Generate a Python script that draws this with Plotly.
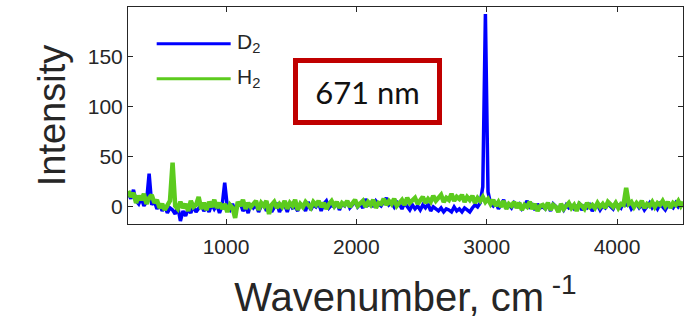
import plotly.graph_objects as go

# Wavenumber sampling grid (cm^-1), 250 ... 4510 in steps of 20
wavenumber = list(range(250, 4511, 20))

# D2 spectrum (blue) (rows of 10 points = 200 cm^-1)
d2 = [
    14, 8, 17, 6, 3, 9, 1, 5, 33, 2,          # 250
    6, -2, 3, -4, 1, -6, -1, -3, -7, 0,       # 450
    -14, -4, -9, -2, -6, 1, -5, -2, 2, -4,    # 650
    0, -5, 3, -2, 2, -6, 1, 24, 0, -3,        # 850
    3, -5, 1, 4, -4, 0, -6, 3, -1, 2,         # 1050
    -5, 1, 3, -4, 2, -5, 0, 4, -5, 1,         # 1250
    2, -5, 4, -1, 0, -4, 3, 1, -4, 5,         # 1450
    -3, 2, 0, 4, -4, 3, 6, -1, 2, 0,          # 1650
    4, -3, 3, 1, 6, -1, 2, 5, 0, 3,           # 1850
    -1, 8, 2, 4, 0, 6, 3, 1, 5, 9,            # 2050
    2, 4, 0, 5, 3, -2, 4, 1, -3, 2,           # 2250
    -2, 1, -3, 2, -1, 3, -4, 0, -2, -4,       # 2450
    -1, -5, -2, -3, -5, 0, -4, -2, -5, -1,    # 2650
    -3, -5, -1, 2, 0, 4, 20, 192, 15, 3,      # 2850
    1, 5, -2, 3, 7, 0, 2, -1, 4, 1,           # 3050
    3, -2, 1, 6, 0, 2, -3, 3, -1, 0,          # 3250
    -2, 2, -4, 3, 0, -2, 1, -3, 2, -1,        # 3450
    1, -2, 0, 3, -3, 1, -1, 2, -4, 0,         # 3650
    2, -3, 1, -1, 3, 0, -2, 4, 1, -1,         # 3850
    5, 2, 4, -2, 1, 3, -1, 2, -3, 1,          # 4050
    4, -1, 2, -2, 3, 0, -3, 2, 1, -1,         # 4250
    4, 0, 3, 2,                               # 4450
]

# H2 spectrum (green)
h2 = [
    16, 10, 14, 4, 11, 7, 13, 3, 9, 12,       # 250
    4, 7, -1, 3, -3, 2, 6, 44, 1, -2,         # 450
    5, -1, 3, -4, 6, 0, 2, 10, -2, 4,         # 650
    -3, 5, 0, 7, -1, 4, -2, 3, -5, 2,         # 850
    -1, -11, 5, 1, 7, -2, 4, 0, 3, 6,         # 1050
    -3, 4, 1, 6, -7, 2, 5, -1, 3, 0,          # 1250
    6, -2, 4, 1, 7, -3, 3, 0, 5, 2,           # 1450
    -1, 5, 2, 6, 0, 4, -2, 3, 6, 1,           # 1650
    5, -1, 4, 2, 6, 0, 3, 7, 1, 4,            # 1850
    6, 0, 5, 2, 7, -1, 4, 3, 8, 2,            # 2050
    6, 3, 8, 1, 5, 7, 2, 9, 4, 6,             # 2250
    9, 3, 7, 10, 4, 8, 5, 11, 6, 9,           # 2450
    12, 5, 9, 7, 13, 6, 10, 8, 12, 5,         # 2650
    10, 7, 11, 4, 9, 6, 10, 5, 8, 3,          # 2850
    7, 1, 5, 0, 6, -2, 3, 1, 5, -1,           # 3050
    4, -3, 2, 0, 5, -2, 3, -4, 1, 2,          # 3250
    -1, 4, -3, 2, 0, -5, 3, -2, 1, 4,         # 3450
    -1, 2, -4, 3, 1, -2, 4, 0, 2, -1,         # 3650
    4, 0, 3, -1, 5, 2, 0, 4, -1, 3,           # 3850
    2, 19, 3, 5, 0, 4, 1, 6, -1, 3,           # 4050
    1, 5, 0, 4, 2, 6, 1, 5, -1, 4,            # 4250
    2, 6, 1, 5,                               # 4450
]

x_ticks = [1000, 2000, 3000, 4000]
y_ticks = [0, 50, 100, 150]
series_names = ["D<sub>2</sub>", "H<sub>2</sub>"]
series_colors = ["#0000FF", "#5CCB1E"]
box_label = "671 nm"

assert len(d2) == len(wavenumber) and len(h2) == len(wavenumber)

FONT = "Liberation Sans"
INK = "#262626"

fig = go.Figure()
fig.add_trace(go.Scatter(x=wavenumber, y=d2, mode="lines", name=series_names[0],
                         line=dict(color=series_colors[0], width=3.5)))
fig.add_trace(go.Scatter(x=wavenumber, y=h2, mode="lines", name=series_names[1],
                         line=dict(color=series_colors[1], width=4.5)))

axis_common = dict(
    showline=True, linecolor=INK, linewidth=1, mirror="allticks",
    ticks="inside", ticklen=5, tickcolor=INK, showgrid=False, zeroline=False,
    automargin=False,
    tickfont=dict(family=FONT, size=21, color=INK),
)

fig.update_layout(
    width=697, height=320,
    margin=dict(l=128, r=14, t=7, b=96),
    paper_bgcolor="white", plot_bgcolor="white",
    showlegend=False,
    xaxis=dict(range=[248, 4506], tickvals=x_ticks, ticklabelstandoff=4, **axis_common,
               title=dict(text="Wavenumber, cm<sup> -1</sup>", standoff=25,
                          font=dict(family=FONT, size=40, color=INK))),
    yaxis=dict(range=[-17, 199], tickvals=y_ticks, **axis_common,
               title=dict(text="Intensity", standoff=10,
                          font=dict(family=FONT, size=38, color=INK))),
)

# Manual legend (long line samples as in the original)
leg_y = [0.831, 0.669]
for i in range(2):
    fig.add_shape(type="line", xref="paper", yref="paper", x0=0.0517, x1=0.185,
                  y0=leg_y[i], y1=leg_y[i], line=dict(color=series_colors[i], width=3))
    fig.add_annotation(xref="paper", yref="paper", x=0.193, y=leg_y[i] + 0.005,
                       xanchor="left", yanchor="middle", showarrow=False,
                       text=series_names[i],
                       font=dict(family=FONT, size=21, color=INK))

# Laser wavelength box
fig.add_annotation(xref="paper", yref="paper", x=0.431, y=0.611, xanchor="center", yanchor="middle",
                   showarrow=False, text=box_label, width=139, height=57,
                   bordercolor="#C00000", borderwidth=5, borderpad=0, bgcolor="white",
                   font=dict(family="Lato", size=31, color="#111111"))

fig.write_html("out.html", config={"displayModeBar": False},
               post_script="document.body.style.margin='0';")
